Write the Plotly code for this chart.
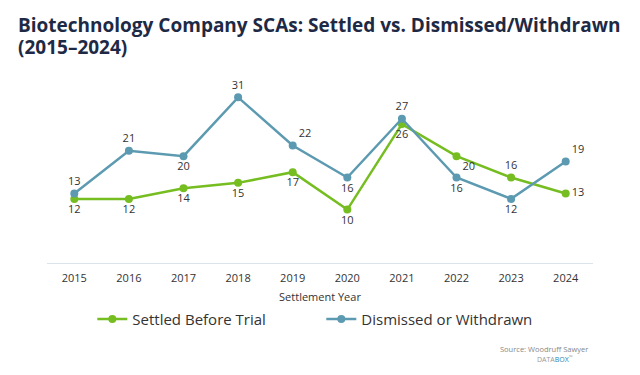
import plotly.graph_objects as go

years = ["2015", "2016", "2017", "2018", "2019", "2020", "2021", "2022", "2023", "2024"]
settled = [12, 12, 14, 15, 17, 10, 26, 20, 16, 13]
dismissed = [13, 21, 20, 31, 22, 16, 27, 16, 12, 19]

settled_pos = ["bottom center"] * 7 + ["bottom right", "top center", "middle right"]
dismissed_pos = ["top center", "top center", "bottom center", "top center", "top right",
                 "bottom center", "top center", "bottom center", "bottom center", "top right"]

GREEN = "#75BD20"
BLUE = "#5C9AB1"
FONT = "Open Sans"

# plot area in screen pixels: x 47..593, y 76..263 (page has an 8px body margin)
PB = 263
PH = 187
PL = 47
PW = 546


def px(x):
    return (x - PL) / PW


def py(y):
    return (PB - y) / PH


fig = go.Figure()
fig.add_trace(go.Scatter(
    x=years, y=settled, name="Settled Before Trial", mode="lines+markers+text",
    line=dict(color=GREEN, width=2.5), marker=dict(color=GREEN, size=8),
    text=[str(v) for v in settled], textposition=settled_pos,
    textfont=dict(family=FONT, size=11, color="#333333"),
))
fig.add_trace(go.Scatter(
    x=years, y=dismissed, name="Dismissed or Withdrawn", mode="lines+markers+text",
    line=dict(color=BLUE, width=2.5), marker=dict(color=BLUE, size=8),
    text=[str(v) for v in dismissed], textposition=dismissed_pos,
    textfont=dict(family=FONT, size=11, color="#333333"),
))

fig.update_layout(
    width=640, height=375,
    margin=dict(l=39, r=55, t=68, b=120),
    paper_bgcolor="white", plot_bgcolor="white",
    font=dict(family=FONT, color="#333333"),
    xaxis=dict(
        type="category", range=[-0.5, 9.5], showline=True, linecolor="#DDE3EA", linewidth=1,
        showgrid=False, ticks="", ticklabelstandoff=5,
        tickfont=dict(family=FONT, size=11, color="#333333"),
        title=dict(text="Settlement Year", font=dict(family=FONT, size=11, color="#333333"), standoff=9),
    ),
    yaxis=dict(range=[0, 35], visible=False, showgrid=False, zeroline=False),
    showlegend=True,
    legend=dict(
        orientation="h", x=0.083, xanchor="left", y=-0.213, yanchor="top",
        font=dict(family=FONT, size=15, color="#333333"),
        entrywidth=184, entrywidthmode="pixels",
    ),
    annotations=[
        dict(text="<b>Biotechnology Company SCAs: Settled vs. Dismissed/Withdrawn</b>",
             xref="paper", yref="paper", x=px(16), y=py(25), xanchor="left", yanchor="middle",
             showarrow=False, font=dict(family=FONT, size=19, color="#1E2A45")),
        dict(text="<b>(2015–2024)</b>",
             xref="paper", yref="paper", x=px(16), y=py(47), xanchor="left", yanchor="middle",
             showarrow=False, font=dict(family=FONT, size=19, color="#1E2A45")),
        dict(text="Source: Woodruff Sawyer", xref="paper", yref="paper", x=px(590), y=py(349),
             xanchor="right", yanchor="middle", showarrow=False,
             font=dict(family=FONT, size=7.5, color="#888888")),
        dict(text="DATA<span style='color:#2F7FB0'>BOX</span><sup>™</sup>", xref="paper", yref="paper",
             x=px(575), y=py(359), xanchor="right", yanchor="middle", showarrow=False,
             font=dict(family=FONT, size=7, color="#999999")),
    ],
)

fig.write_html("out.html")
